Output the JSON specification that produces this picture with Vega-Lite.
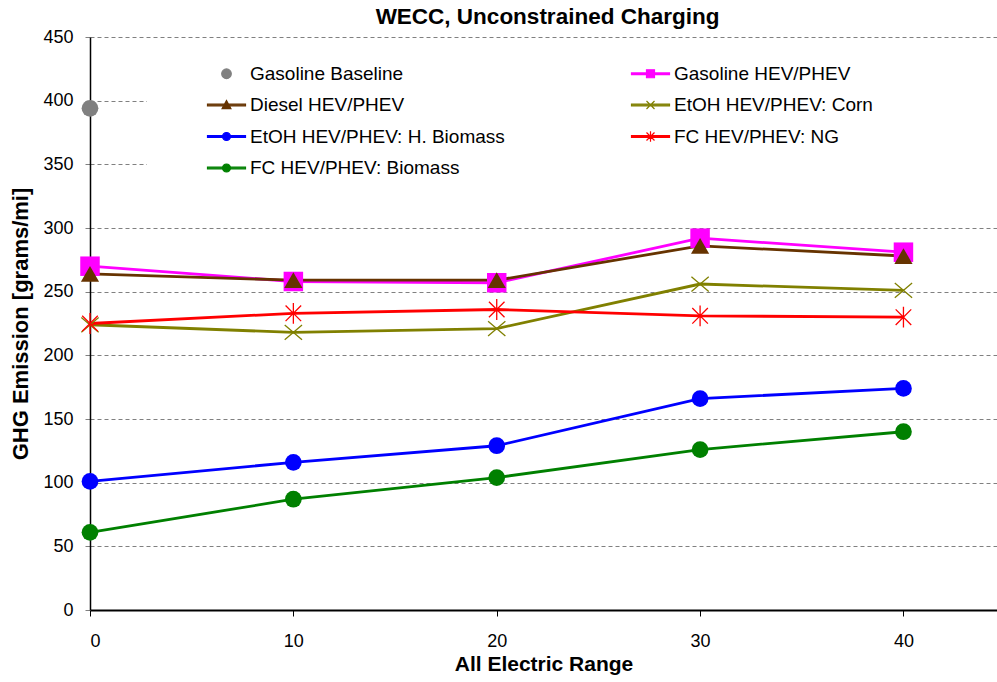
{
  "$schema": "https://vega.github.io/schema/vega-lite/v6.json",
  "width": 907,
  "height": 573,
  "autosize": {"type": "none"},
  "padding": {"left": 90, "top": 37, "right": 0, "bottom": 72},
  "background": "white",
  "title": {
    "text": "WECC, Unconstrained Charging",
    "font": "Liberation Sans",
    "fontSize": 22.5,
    "fontWeight": "bold",
    "color": "black",
    "anchor": "middle",
    "dx": 4,
    "offset": 0
  },
  "config": {
    "view": {"stroke": null},
    "font": "Liberation Sans"
  },
  "data": {
    "values": [
      {"series": "Gasoline Baseline", "aer": 0, "ghg": 394},
      {"series": "Gasoline HEV/PHEV", "aer": 0, "ghg": 270},
      {"series": "Gasoline HEV/PHEV", "aer": 10, "ghg": 258},
      {"series": "Gasoline HEV/PHEV", "aer": 20, "ghg": 257},
      {"series": "Gasoline HEV/PHEV", "aer": 30, "ghg": 292},
      {"series": "Gasoline HEV/PHEV", "aer": 40, "ghg": 281},
      {"series": "Diesel HEV/PHEV", "aer": 0, "ghg": 264},
      {"series": "Diesel HEV/PHEV", "aer": 10, "ghg": 259},
      {"series": "Diesel HEV/PHEV", "aer": 20, "ghg": 259},
      {"series": "Diesel HEV/PHEV", "aer": 30, "ghg": 286},
      {"series": "Diesel HEV/PHEV", "aer": 40, "ghg": 278},
      {"series": "EtOH HEV/PHEV: Corn", "aer": 0, "ghg": 224},
      {"series": "EtOH HEV/PHEV: Corn", "aer": 10, "ghg": 218},
      {"series": "EtOH HEV/PHEV: Corn", "aer": 20, "ghg": 221},
      {"series": "EtOH HEV/PHEV: Corn", "aer": 30, "ghg": 256},
      {"series": "EtOH HEV/PHEV: Corn", "aer": 40, "ghg": 251},
      {"series": "EtOH HEV/PHEV: H. Biomass", "aer": 0, "ghg": 101},
      {"series": "EtOH HEV/PHEV: H. Biomass", "aer": 10, "ghg": 116},
      {"series": "EtOH HEV/PHEV: H. Biomass", "aer": 20, "ghg": 129},
      {"series": "EtOH HEV/PHEV: H. Biomass", "aer": 30, "ghg": 166},
      {"series": "EtOH HEV/PHEV: H. Biomass", "aer": 40, "ghg": 174},
      {"series": "FC HEV/PHEV: NG", "aer": 0, "ghg": 225},
      {"series": "FC HEV/PHEV: NG", "aer": 10, "ghg": 233},
      {"series": "FC HEV/PHEV: NG", "aer": 20, "ghg": 236},
      {"series": "FC HEV/PHEV: NG", "aer": 30, "ghg": 231},
      {"series": "FC HEV/PHEV: NG", "aer": 40, "ghg": 230},
      {"series": "FC HEV/PHEV: Biomass", "aer": 0, "ghg": 61},
      {"series": "FC HEV/PHEV: Biomass", "aer": 10, "ghg": 87},
      {"series": "FC HEV/PHEV: Biomass", "aer": 20, "ghg": 104},
      {"series": "FC HEV/PHEV: Biomass", "aer": 30, "ghg": 126},
      {"series": "FC HEV/PHEV: Biomass", "aer": 40, "ghg": 140}
    ]
  },
  "encoding": {
    "x": {
      "field": "aer",
      "type": "quantitative",
      "scale": {"domain": [0, 44.6], "nice": false, "zero": false},
      "axis": {
        "title": "All Electric Range",
        "values": [0, 10, 20, 30, 40],
        "grid": false,
        "domainColor": "black",
        "domainWidth": 2,
        "tickColor": "black",
        "tickSize": 6,
        "labelFontSize": 18,
        "labelColor": "black",
        "labelPadding": 16,
        "titleFontSize": 21,
        "titleFontWeight": "bold",
        "titleColor": "black",
        "titlePadding": 3
      }
    },
    "y": {
      "field": "ghg",
      "type": "quantitative",
      "scale": {"domain": [0, 450], "nice": false},
      "axis": {
        "title": "GHG Emission [grams/mi]",
        "values": [0, 50, 100, 150, 200, 250, 300, 350, 400, 450],
        "grid": true,
        "gridColor": "#808080",
        "gridDash": [4, 3],
        "gridWidth": 1,
        "domainColor": "black",
        "domainWidth": 1.5,
        "tickColor": "#808080",
        "tickSize": 5,
        "labelFontSize": 18,
        "labelColor": "black",
        "labelPadding": 12,
        "titleFontSize": 22,
        "titleFontWeight": "bold",
        "titleColor": "black",
        "titlePadding": 10
      }
    },
    "color": {
      "field": "series",
      "type": "nominal",
      "scale": {
        "domain": ["Gasoline Baseline", "Gasoline HEV/PHEV", "Diesel HEV/PHEV", "EtOH HEV/PHEV: Corn", "EtOH HEV/PHEV: H. Biomass", "FC HEV/PHEV: NG", "FC HEV/PHEV: Biomass"],
        "range": ["#808080", "#FF00FF", "#663300", "#808000", "#0000FF", "#FF0000", "#008000"]
      },
      "legend": {
        "title": "\u00a0",
        "titleOrient": "right",
        "titlePadding": 150,
        "orient": "none",
        "direction": "horizontal",
        "legendX": 57,
        "legendY": 15,
        "columns": 2,
        "padding": 12,
        "fillColor": "white",
        "strokeColor": null,
        "labelFontSize": 19,
        "labelColor": "black",
        "labelFont": "Liberation Sans",
        "symbolSize": 64,
        "symbolOffset": 58,
        "labelOffset": 14,
        "columnPadding": 78,
        "rowPadding": 11.5,
        "labelLimit": 400,
        "encode": {
          "symbols": {
            "update": {
              "shape": {"signal": "datum.value === 'Gasoline Baseline' ? 'M-1.2,0A1.2,1.2 0 1,1 1.2,0A1.2,1.2 0 1,1 -1.2,0Z' : datum.value === 'Gasoline HEV/PHEV' ? 'M-4.75,-0.2H4.75V0.2H-4.75ZM-1,-1H1V1H-1Z' : datum.value === 'Diesel HEV/PHEV' ? 'M-4.75,-0.2H4.75V0.2H-4.75ZM0,-1.1L1.1,0.9H-1.1Z' : datum.value === 'EtOH HEV/PHEV: Corn' ? 'M-4.75,-0.2H4.75V0.2H-4.75ZM-1,-1L1,1M-1,1L1,-1' : datum.value === 'FC HEV/PHEV: NG' ? 'M-4.75,-0.2H4.75V0.2H-4.75ZM-1,-1L1,1M-1,1L1,-1M0,-1.3V1.3' : 'M-4.75,-0.2H4.75V0.2H-4.75ZM-1,0A1,1 0 1,1 1,0A1,1 0 1,1 -1,0Z'"},
              "fill": {"scale": "color", "field": "value"},
              "stroke": {"scale": "color", "field": "value"},
              "strokeWidth": {"value": 1.2},
              "size": {"value": 64},
              "opacity": {"value": 1}
            }
          }
        }
      }
    }
  },
  "layer": [
    {
      "mark": {"type": "line", "strokeWidth": 2.8},
      "encoding": {}
    },
    {
      "transform": [{"filter": "datum.series === 'Gasoline Baseline' || datum.series === 'EtOH HEV/PHEV: H. Biomass' || datum.series === 'FC HEV/PHEV: Biomass'"}],
      "mark": {"type": "point", "shape": "circle", "filled": true, "opacity": 1, "size": 280},
      "encoding": {}
    },
    {
      "transform": [{"filter": "datum.series === 'Gasoline HEV/PHEV'"}],
      "mark": {"type": "point", "shape": "square", "filled": true, "opacity": 1, "size": 380},
      "encoding": {}
    },
    {
      "transform": [{"filter": "datum.series === 'Diesel HEV/PHEV'"}],
      "mark": {"type": "point", "shape": "triangle-up", "filled": true, "opacity": 1, "size": 330},
      "encoding": {}
    },
    {
      "transform": [{"filter": "datum.series === 'EtOH HEV/PHEV: Corn'"}],
      "mark": {"type": "point", "shape": "M-1,-0.85L1,0.85M-1,0.85L1,-0.85", "filled": false, "opacity": 1, "size": 300, "strokeWidth": 1.3},
      "encoding": {}
    },
    {
      "transform": [{"filter": "datum.series === 'FC HEV/PHEV: NG'"}],
      "mark": {"type": "point", "shape": "M-0.9,-0.9L0.9,0.9M-0.9,0.9L0.9,-0.9M0,-1.2V1.2", "filled": false, "opacity": 1, "size": 300, "strokeWidth": 1.3},
      "encoding": {}
    }
  ]
}
